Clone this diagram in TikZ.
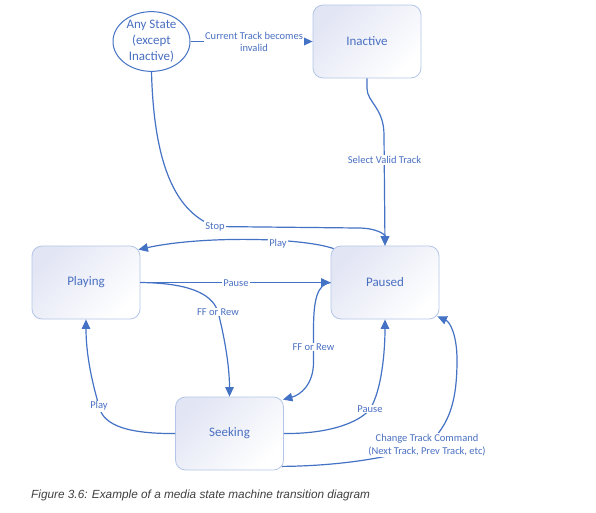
\documentclass[tikz,border=0pt]{standalone}
\usepackage{fontspec}
\setmainfont{Carlito}
\newfontfamily\capfont{Liberation Sans}
\usetikzlibrary{arrows.meta,shapes.geometric,calc}
\definecolor{lnblue}{HTML}{4472C4}
\definecolor{txtblue}{HTML}{4A70C2}
\definecolor{boxedge}{HTML}{B4C6E7}
\definecolor{boxfill}{HTML}{E2E5F4}
\definecolor{capgrey}{HTML}{404040}
\begin{document}
\begin{tikzpicture}[x=1pt,y=-1pt,
  statebox/.style={rectangle, rounded corners=10pt, draw=boxedge, line width=0.8pt,
    top color=boxfill, bottom color=white, shading angle=45,
    minimum width=108pt, minimum height=73pt, text=txtblue,
    font=\fontsize{13}{16}\selectfont, inner sep=0pt},
  anystate/.style={ellipse, draw=lnblue, line width=1pt, fill=white,
    minimum width=77pt, minimum height=52pt, inner sep=0pt, align=center,
    text=txtblue, font=\fontsize{13}{16}\selectfont},
  conn/.style={draw=lnblue, line width=1.2pt},
  arr/.style={conn, -{Triangle[length=9.5pt,width=8.5pt]}},
  lbl/.style={fill=white, text=txtblue, font=\fontsize{10.5}{12}\selectfont,
    inner sep=1pt, align=center},
  caption/.style={anchor=west, text=capgrey, font=\capfont\itshape\fontsize{11.8}{14}\selectfont, inner sep=0pt}]
\useasboundingbox (0,0) rectangle (596,512);
\fill[white] (0,0) rectangle (596,512);

% states
\node[anystate] (any) at (151.5,41.5) {Any State\\(except\\Inactive)};
\node[statebox] (inactive) at (367,41.5) {Inactive};
\node[statebox] (playing) at (86,282.5) {Playing};
\node[statebox] (paused) at (385,282.5) {Paused};
\node[statebox] (seeking) at (229.5,433.5) {Seeking};

% label positions
\coordinate (ct1c) at (254,41.5);
\coordinate (stopc) at (215,226.5);
\coordinate (svtc) at (384.5,160);
\coordinate (play1c) at (278,243.5);
\coordinate (pause1c) at (236,283);
\coordinate (ff1c) at (218,312);
\coordinate (ff2c) at (313.5,347);
\coordinate (play2c) at (99,406);
\coordinate (pause2c) at (370,409);
\coordinate (ct2c) at (427,445);

% connectors
\draw[arr] (any.east) -- (inactive.west);
\draw[arr] (any.south) .. controls (154,170) and (178,213) .. (stopc) -- (358,228)
  .. controls (376,228) and (385,234) .. (paused.north);
\draw[arr] (inactive.south) -- ++(0,10) .. controls (367,102) and (384,108) .. (384,135)
  -- (paused.north);
\draw[arr] ($(paused.north west)+(3,3)$) .. controls (300,237) and (200,236)
  .. ($(playing.north east)+(-2,4)$);
\draw[arr] (playing.east) -- (paused.west);
\draw[arr] (playing.east) .. controls (185,283) and (212,292) .. (ff1c)
  .. controls (224,335) and (229.5,365) .. (seeking.north);
\draw[arr] (paused.west) .. controls (317,284) and (313.5,300) .. (313.5,330) -- (313.5,362)
  .. controls (313.5,385) and (300,395) .. ($(seeking.north east)+(-1,3)$);
\draw[arr] (seeking.west) .. controls (120,434) and (102,422) .. (play2c)
  .. controls (90,375) and (86,350) .. (playing.south);
\draw[arr] (seeking.east) .. controls (330,434) and (360,422) .. (pause2c)
  .. controls (382,390) and (385,350) .. (paused.south);
\draw[arr] ($(seeking.south east)+(-2,-4)$) .. controls (330,466) and (385,460) .. (ct2c)
  .. controls (450,425) and (457,400) .. (457,360)
  .. controls (457,335) and (450,322) .. ($(paused.south east)+(-2,-3)$);

% labels
\node[lbl] (ct1) at (ct1c) {Current Track becomes\\invalid};
\node[lbl] (stop) at (stopc) {Stop};
\node[lbl] (svt) at (svtc) {Select Valid Track};
\node[lbl] (play1) at (play1c) {Play};
\node[lbl] (pause1) at (pause1c) {Pause};
\node[lbl] (ff1) at (ff1c) {FF or Rew};
\node[lbl] (ff2) at (ff2c) {FF or Rew};
\node[lbl] (play2) at (play2c) {Play};
\node[lbl] (pause2) at (pause2c) {Pause};
\node[lbl, font=\fontsize{10.5}{13.4}\selectfont] (ct2) at (ct2c) {Change Track Command\\(Next Track, Prev Track, etc)};

\node[caption] (cap) at (31,495) {Figure 3.6: Example of a media state machine transition diagram};
\end{tikzpicture}
\end{document}
